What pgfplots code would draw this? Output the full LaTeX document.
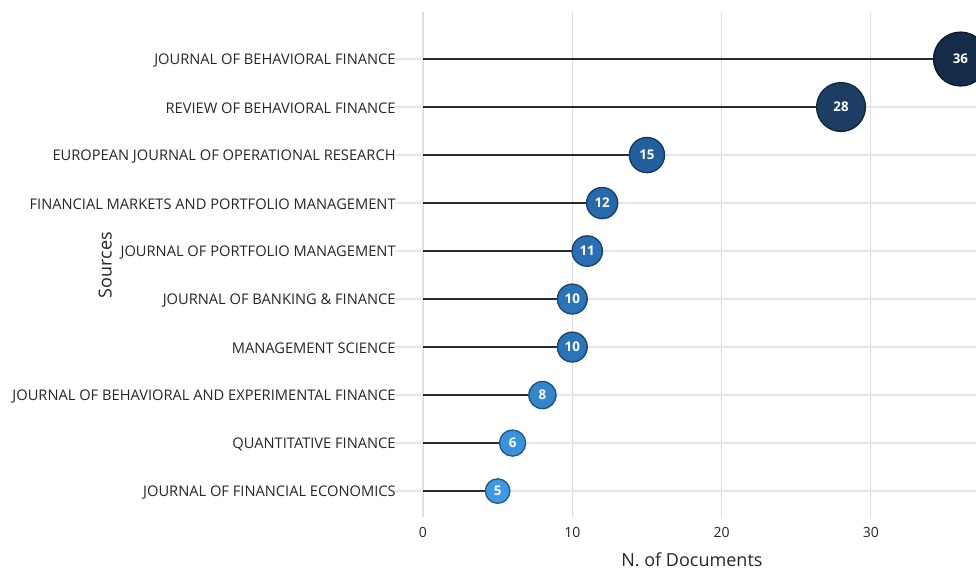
\documentclass[border=0pt]{standalone}
\usepackage{fontspec}
\setmainfont{Open Sans}
\usepackage{pgfplots}
\pgfplotsset{compat=1.18}

\definecolor{stem}{HTML}{2B2B2B}
\definecolor{gridc}{HTML}{DEDEDE}
\definecolor{c36}{HTML}{142B4A}
\definecolor{c28}{HTML}{1D3D63}
\definecolor{c15}{HTML}{235F9D}
\definecolor{c12}{HTML}{2769AB}
\definecolor{c11}{HTML}{2A6EB3}
\definecolor{c10}{HTML}{2C74BA}
\definecolor{c8}{HTML}{3386CC}
\definecolor{c6}{HTML}{3993DB}
\definecolor{c5}{HTML}{3C99E2}

\pgfplotsset{
  bub/.style 2 args={
    only marks, mark=*, mark size=#1,
    mark options={fill=#2, draw=#2!60!black, line width=1pt},
    nodes near coords, point meta=x,
    every node near coord/.append style={anchor=center, text=white,
      font=\fontsize{10}{11}\selectfont\bfseries}
  }
}

\begin{document}
\begin{tikzpicture}
\begin{axis}[
    at={(0,0)}, anchor=south west,
    scale only axis,
    width=435.75pt, height=378.75pt,
    xmin=-1.875, xmax=37.04,
    ymin=0.46, ymax=10.98,
    axis line style={draw=none},
    xtick={0,10,20,30},
    ytick={1,...,10},
    yticklabels={
      JOURNAL OF FINANCIAL ECONOMICS,
      QUANTITATIVE FINANCE,
      JOURNAL OF BEHAVIORAL AND EXPERIMENTAL FINANCE,
      MANAGEMENT SCIENCE,
      JOURNAL OF BANKING \& FINANCE,
      JOURNAL OF PORTFOLIO MANAGEMENT,
      FINANCIAL MARKETS AND PORTFOLIO MANAGEMENT,
      EUROPEAN JOURNAL OF OPERATIONAL RESEARCH,
      REVIEW OF BEHAVIORAL FINANCE,
      JOURNAL OF BEHAVIORAL FINANCE},
    major tick length=0pt,
    xmajorgrids, ymajorgrids,
    x grid style={gridc, line width=0.8pt},
    y grid style={gridc!75, line width=1.1pt},
    tick label style={text=black!85},
    xticklabel style={font=\fontsize{10.5}{12}\selectfont, yshift=-4pt},
    yticklabel style={font=\fontsize{11}{13}\selectfont, xshift=4pt, yshift=-1pt},
    /pgf/number format/assume math mode=true,
    xlabel={N. of Documents},
    ylabel={Sources},
    label style={font=\fontsize{13.5}{15}\selectfont, text=black!85},
    xlabel style={at={(axis description cs:0.511,-0.085)}, anchor=center},
    ylabel style={at={(axis description cs:-0.499,0.499)}, anchor=center},
]
\addplot[xcomb, draw=stem, line width=1.5pt] coordinates {
  (36,10) (28,9) (15,8) (12,7) (11,6) (10,5) (10,4) (8,3) (6,2) (5,1)
};
\addplot[bub={20.2pt}{c36}] coordinates {(36,10)};
\addplot[bub={18.3pt}{c28}] coordinates {(28,9)};
\addplot[bub={13.2pt}{c15}] coordinates {(15,8)};
\addplot[bub={11.7pt}{c12}] coordinates {(12,7)};
\addplot[bub={11.4pt}{c11}] coordinates {(11,6)};
\addplot[bub={11.2pt}{c10}] coordinates {(10,5)};
\addplot[bub={11.2pt}{c10}] coordinates {(10,4)};
\addplot[bub={10.2pt}{c8}] coordinates {(8,3)};
\addplot[bub={9.8pt}{c6}] coordinates {(6,2)};
\addplot[bub={9.2pt}{c5}] coordinates {(5,1)};
\end{axis}
\pgfresetboundingbox
\path[use as bounding box] (-296.25pt,-39.75pt) rectangle (435.75pt,387.75pt);
\end{tikzpicture}
\end{document}
